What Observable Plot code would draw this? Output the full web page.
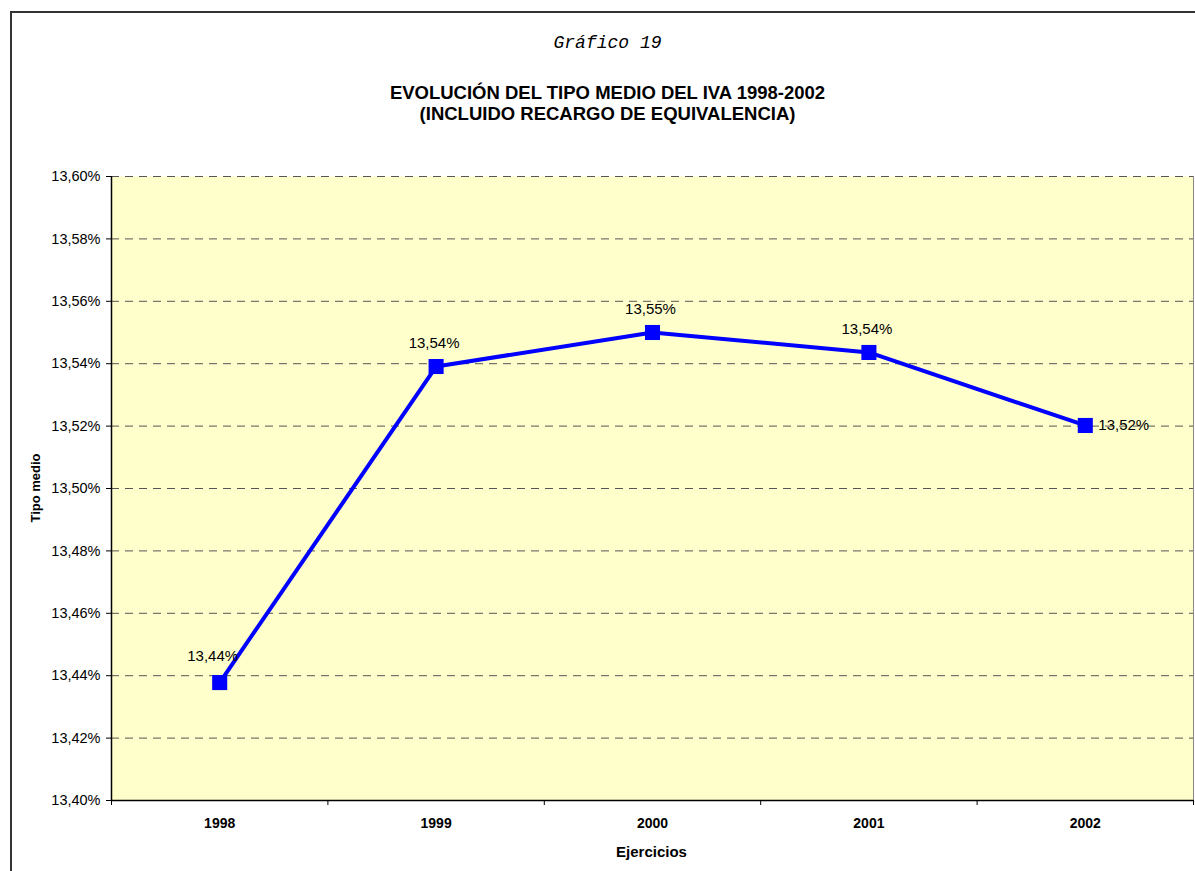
<!DOCTYPE html>
<html>
<head>
<meta charset="utf-8">
<script src="https://cdn.jsdelivr.net/npm/d3@7"></script>
<script src="https://cdn.jsdelivr.net/npm/@observablehq/plot@0.6"></script>
<style>
  body { margin: 0; background: #fff; }
  #wrap { position: relative; width: 1195px; height: 871px; overflow: hidden; font-family: "Liberation Sans", Arial, sans-serif; }
  #border { position: absolute; left: 10px; top: 11px; width: 1300px; height: 1000px; border: 2px solid #333; box-sizing: border-box; }
  #chart { position: absolute; left: 0; top: 0; }
  .t { position: absolute; left: 0; width: 1195px; text-align: center; color: #000; }
  #sup { top: 33px; font-family: "Liberation Mono", "Courier New", monospace; font-style: italic; font-size: 18px; padding-left: 10px; }
  #title { top: 82px; font-weight: bold; font-size: 18.5px; line-height: 21px; padding-left: 10px; }
  #xlab { top: 843px; font-weight: bold; font-size: 15px; padding-left: 110px; width: 1083px; }
  #ylab { position: absolute; left: 35px; top: 488px; font-weight: bold; font-size: 13px; transform: translate(-50%, -50%) rotate(-90deg); white-space: nowrap; }
</style>
</head>
<body>
<div id="wrap">
  <div id="border"></div>
  <div id="chart"></div>
  <div class="t" id="sup">Gráfico 19</div>
  <div class="t" id="title">EVOLUCIÓN DEL TIPO MEDIO DEL IVA 1998-2002<br>(INCLUIDO RECARGO DE EQUIVALENCIA)</div>
  <div class="t" id="xlab">Ejercicios</div>
  <div id="ylab">Tipo medio</div>
</div>
<script>
const years = [1998, 1999, 2000, 2001, 2002];
const tipoMedio = [13.4378, 13.5391, 13.5500, 13.5436, 13.5202];
const yTicks = [13.40, 13.42, 13.44, 13.46, 13.48, 13.50, 13.52, 13.54, 13.56, 13.58, 13.60];
const xBounds = [1997.5, 1998.5, 1999.5, 2000.5, 2001.5, 2002.5];

const data = years.map((y, i) => ({year: y, value: tipoMedio[i]}));
const fmtPct = v => v.toFixed(2).replace(".", ",") + "%";
const font = "Liberation Sans, Arial, sans-serif";

const chart = Plot.plot({
  width: 1195,
  height: 871,
  marginLeft: 111,
  marginRight: 2,
  marginTop: 176,
  marginBottom: 71,
  style: {fontFamily: font, fontSize: "14px", background: "transparent", overflow: "visible"},
  x: {type: "linear", domain: [1997.5, 2002.5]},
  y: {domain: [13.40, 13.60]},
  marks: [
    Plot.frame({fill: "#FFFFCC", stroke: null}),
    Plot.gridY(yTicks.slice(1), {stroke: "#555", strokeOpacity: 1, strokeDasharray: "8,6", strokeWidth: 1}),
    Plot.ruleX([2002.5], {stroke: "#888", strokeWidth: 1}),
    Plot.ruleX([1997.5], {stroke: "#000", strokeWidth: 1.5}),
    Plot.ruleY([13.40], {stroke: "#000", strokeWidth: 1.5}),
    Plot.axisY({ticks: yTicks, tickFormat: fmtPct, tickSize: 5, tickPadding: 6, fontSize: 14.5, label: null, stroke: "#000"}),
    Plot.axisX({ticks: xBounds, tickFormat: () => "", tickSize: 5, label: null, stroke: "#000"}),
    Plot.axisX({ticks: years, tickFormat: d => String(d), tickSize: 0, tickPadding: 18, fontSize: 14, fontWeight: "bold", label: null}),
    Plot.line(data, {x: "year", y: "value", stroke: "#0000FF", strokeWidth: 4}),
    Plot.dot(data, {x: "year", y: "value", symbol: "square", r: 8.5, fill: "#0000FF", stroke: null}),
    Plot.text(data.slice(0, 1), {x: "year", y: "value", text: d => fmtPct(d.value), dx: -7, dy: -26, fontSize: 15, fill: "#000"}),
    Plot.text(data.slice(1, 4), {x: "year", y: "value", text: d => fmtPct(d.value), dx: -2, dy: -23, fontSize: 15, fill: "#000"}),
    Plot.text(data.slice(4), {x: "year", y: "value", text: d => fmtPct(d.value), dx: 13, textAnchor: "start", fontSize: 15, fill: "#000"})
  ]
});
document.getElementById("chart").appendChild(chart);
</script>
</body>
</html>
